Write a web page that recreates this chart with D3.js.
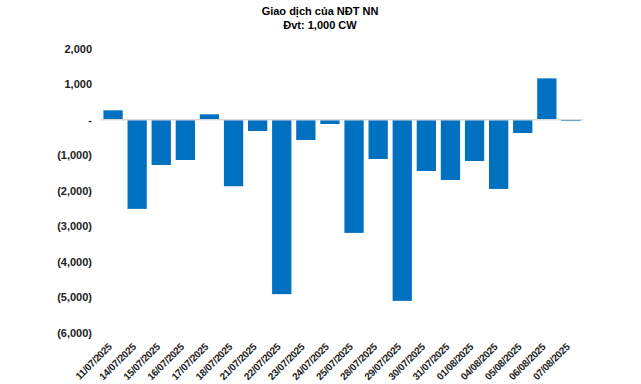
<!DOCTYPE html>
<html>
<head>
<meta charset="utf-8">
<script src="https://cdn.jsdelivr.net/npm/d3@7"></script>
<style>
  body { margin: 0; background: #fff; }
  text { font-family: Arial, "Liberation Sans", sans-serif; }
</style>
</head>
<body>
<div id="app"></div>
<script>
const dates = ["11/07/2025", "14/07/2025", "15/07/2025", "16/07/2025", "17/07/2025",
  "18/07/2025", "21/07/2025", "22/07/2025", "23/07/2025", "24/07/2025",
  "25/07/2025", "28/07/2025", "29/07/2025", "30/07/2025", "31/07/2025",
  "01/08/2025", "04/08/2025", "05/08/2025", "06/08/2025", "07/08/2025"];
const values = [262, -2510, -1275, -1135, 150, -1873, -320, -4907, -573, -124,
  -3185, -1107, -5096, -1444, -1697, -1163, -1949, -376, 1160, -40];
const yTicks = [2000, 1000, 0, -1000, -2000, -3000, -4000, -5000, -6000];
const titleLines = ["Giao dịch của NĐT NN", "Đvt: 1,000 CW"];

const w = 641, h = 384;
const plotLeft = 101, plotRight = 583, plotTop = 48.5, plotBottom = 333;

const svg = d3.select("#app").append("svg")
  .attr("width", w)
  .attr("height", h);

const xScale = d3.scaleBand()
  .domain(dates)
  .range([plotLeft, plotRight])
  .paddingInner(0.2)
  .paddingOuter(0.1);

const yScale = d3.scaleLinear()
  .domain([2000, -6000])
  .range([plotTop, plotBottom]);

const fmt = d => {
  if (d === 0) return "-";
  const s = d3.format(",")(Math.abs(d));
  return d < 0 ? `(${s})` : s;
};

// title
svg.append("g").selectAll("text")
  .data(titleLines)
  .enter()
  .append("text")
  .attr("x", 320)
  .attr("y", (d, i) => 15 + i * 14)
  .attr("text-anchor", "middle")
  .attr("font-size", "11px")
  .attr("font-weight", "bold")
  .text(d => d);

// y axis (labels only)
const yAxis = d3.axisLeft(yScale)
  .tickValues(yTicks)
  .tickFormat(fmt)
  .tickSize(0)
  .tickPadding(0);

svg.append("g")
  .attr("transform", `translate(${plotLeft - 9}, 0)`)
  .call(yAxis)
  .call(g => g.select(".domain").remove())
  .selectAll("text")
  .attr("font-size", "11px")
  .attr("font-weight", "bold")
  .attr("font-family", "Arial, 'Liberation Sans', sans-serif")
  .attr("fill", "#222");

// bars
svg.selectAll("rect.bar")
  .data(values)
  .enter()
  .append("rect")
  .attr("class", "bar")
  .attr("x", (d, i) => xScale(dates[i]))
  .attr("y", d => yScale(Math.max(0, d)))
  .attr("width", xScale.bandwidth())
  .attr("height", d => Math.abs(yScale(d) - yScale(0)))
  .attr("fill", "#0070c0");

// zero line
svg.append("line")
  .attr("x1", plotLeft)
  .attr("x2", plotRight)
  .attr("y1", yScale(0))
  .attr("y2", yScale(0))
  .attr("stroke", "#d9d9d9")
  .attr("stroke-width", 1.5);

// x axis labels, rotated
const xAxis = d3.axisBottom(xScale)
  .tickSize(0)
  .tickPadding(0);

svg.append("g")
  .attr("transform", `translate(0, ${plotBottom + 12})`)
  .call(xAxis)
  .call(g => g.select(".domain").remove())
  .selectAll("text")
  .attr("font-size", "10px")
  .attr("font-weight", "bold")
  .attr("font-family", "Arial, 'Liberation Sans', sans-serif")
  .attr("fill", "#222")
  .attr("letter-spacing", "-0.3px")
  .attr("text-anchor", "end")
  .attr("dy", "0.35em")
  .attr("transform", "translate(-3, 0) rotate(-45)");
</script>
</body>
</html>
